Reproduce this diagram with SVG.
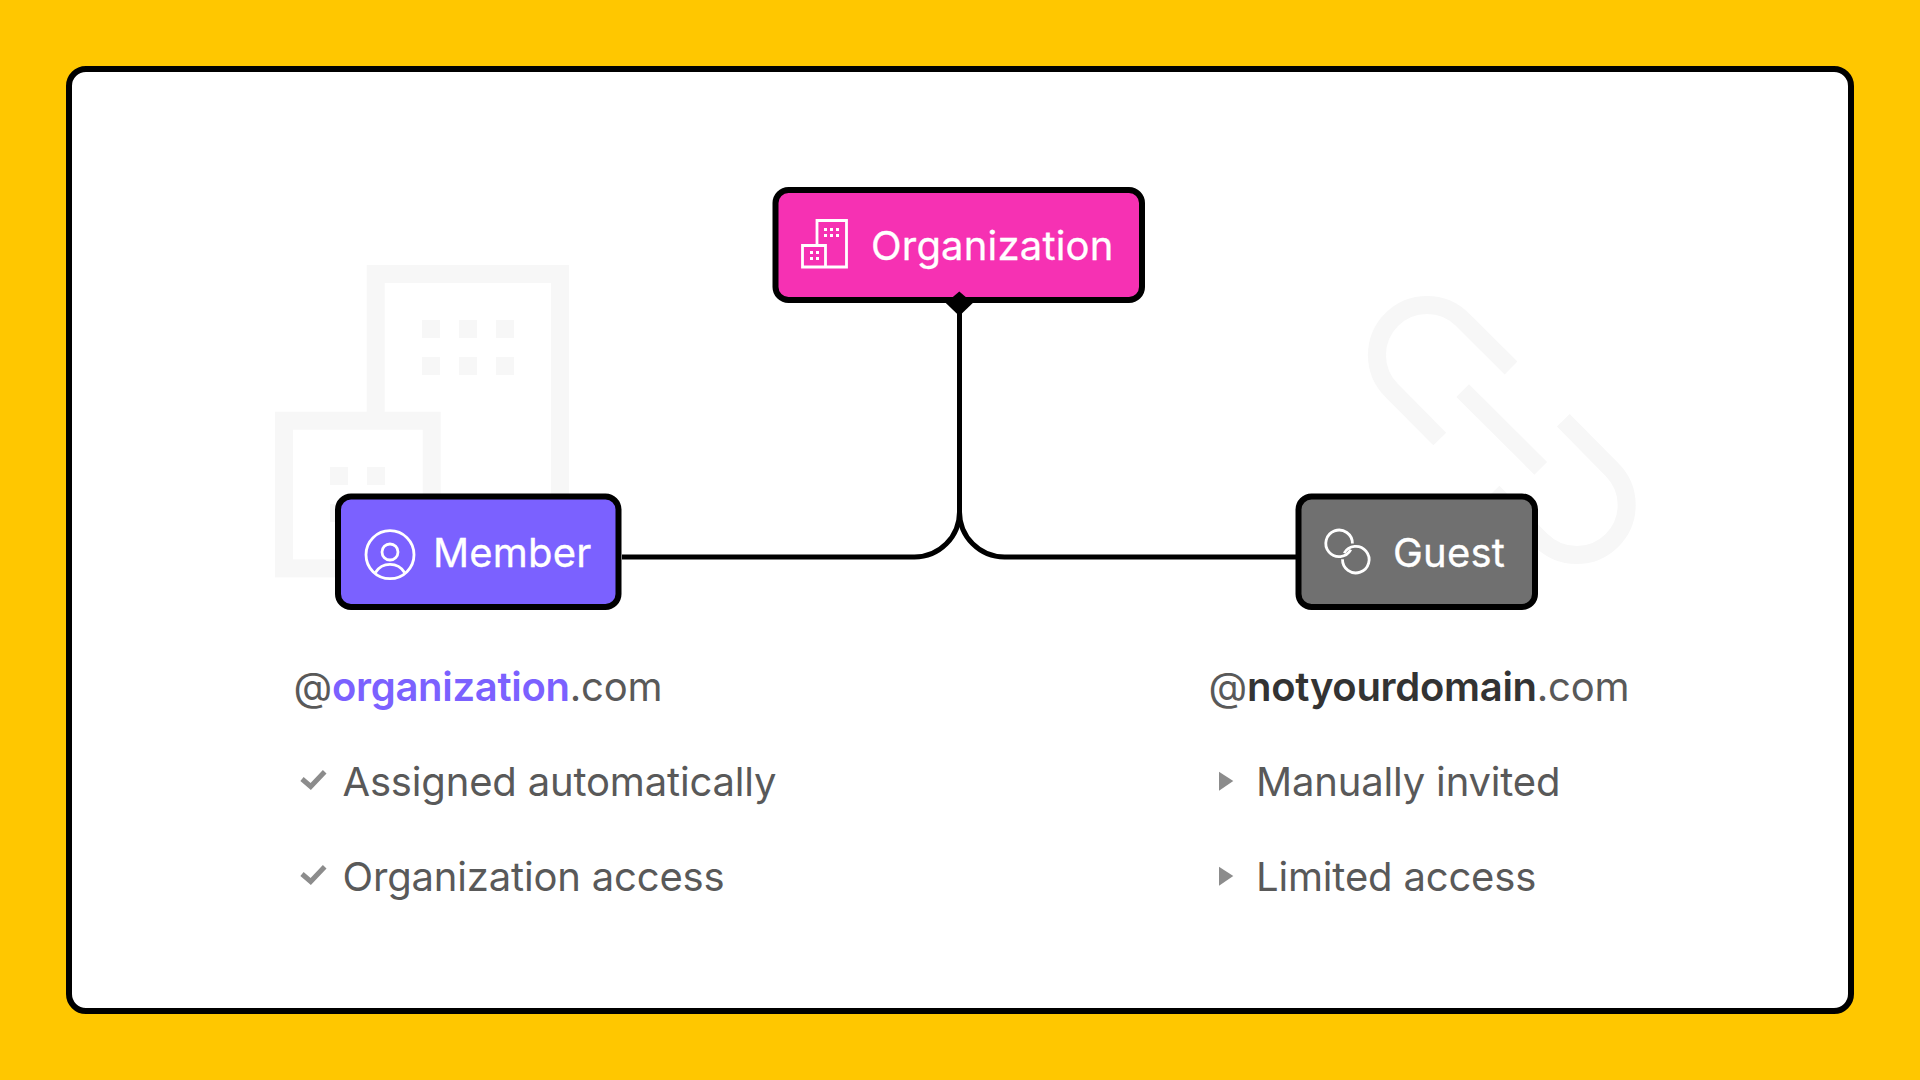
<svg xmlns="http://www.w3.org/2000/svg" width="1920" height="1080" viewBox="0 0 1920 1080">
<style>
text{font-family:Inter,"Noto Sans","Liberation Sans",sans-serif}
.node{stroke:#000;stroke-width:6}
.lbl{fill:#fff;font-size:40px;letter-spacing:.2px;stroke:#fff;stroke-width:.3px}
.det{fill:#595959;font-size:40px;letter-spacing:-.17px}
.em{font-weight:600;letter-spacing:-.3px}
.ic{fill:none;stroke:#fff;stroke-width:2.800}
.bg{fill:none;stroke:#f7f7f7;stroke-width:18}
.bgw{fill:#f7f7f7}
.w{fill:#fff}
.chk{fill:none;stroke:#8c8c8c;stroke-width:5}
.tri{fill:#8c8c8c}
</style>
<rect width="1920" height="1080" fill="#FFC700"/>
<rect x="69" y="69" width="1782" height="942" rx="17" fill="#fff" stroke="#000" stroke-width="6"/>
<g id="bg-building">
<path class="bg" d="M375.700 420V274H560V568"/>
<rect class="bg" x="284" y="420.700" width="147.700" height="147.700"/>
<path class="bgw" d="M422 320h18v18h-18zM459 320h18v18h-18zM496 320h18v18h-18zM422 357h18v18h-18zM459 357h18v18h-18zM496 357h18v18h-18zM330 467h18v18h-18zM367 467h18v18h-18zM330 504h18v18h-18z"/>
</g>
<g id="bg-link" class="bg">
<path d="M1511 368L1462.400 319.600A50 50 0 0 0 1391.600 390.400L1439.700 439"/>
<path d="M1462.700 390.700L1540.700 468.300"/>
<path d="M1563.300 420.300L1612 469.600A50 50 0 0 1 1541.300 540.400L1493 492"/>
</g>
<g id="connectors" fill="none" stroke="#000" stroke-width="5">
<path d="M959.500 303V512A45 45 0 0 1 914.500 557H622"/>
<path d="M959.500 512A45 45 0 0 0 1004.500 557H1296"/>
</g>
<g id="organization">
<rect class="node" x="775.500" y="190" width="366.500" height="110" rx="13" fill="#F631B3"/>
<path d="M959.300 291.500L972.800 303L959.300 316L945.800 303Z" fill="#000"/>
<path class="ic" d="M817 245V220.500H846.500V267H802.500V245.500H825.500V267"/>
<path class="w" d="M824 228h3v3h-3zM830 228h3v3h-3zM836 228h3v3h-3zM824 234h3v3h-3zM830 234h3v3h-3zM836 234h3v3h-3zM810 251h3v3h-3zM816 251h3v3h-3zM810 257h3v3h-3zM816 257h3v3h-3z"/>
<text class="lbl" x="871" y="260">Organization</text>
</g>
<g id="member">
<rect class="node" x="338" y="496.500" width="280.500" height="110.500" rx="13" fill="#7B61FF"/>
<circle class="ic" cx="390" cy="554.700" r="24"/>
<circle class="ic" cx="390" cy="552" r="8"/>
<path class="ic" d="M375.500 572.500A17 17 0 0 1 404.500 572.500"/>
<text class="lbl" x="433" y="567">Member</text>
</g>
<g id="guest">
<rect class="node" x="1298.500" y="496.500" width="236.500" height="110.500" rx="13" fill="#707070"/>
<g transform="translate(.8 0)">
<path class="ic" d="M1350 549.700A13.300 13.300 0 1 1 1351.600 543.500"/>
<path class="ic" d="M1343.400 553.100A13.300 13.300 0 1 1 1341.700 559.300"/>
</g>
<text class="lbl" x="1393" y="567">Guest</text>
</g>
<g id="member-details">
<text class="det" x="293.500" y="701">@<tspan class="em" fill="#7B61FF">organization</tspan>.com</text>
<path class="chk" d="M302 779L310.700 786.500L324.700 771.700"/>
<text class="det" x="342.500" y="796">Assigned automatically</text>
<path class="chk" d="M302 874L310.700 881.500L324.700 866.700"/>
<text class="det" x="342.500" y="891">Organization access</text>
</g>
<g id="guest-details">
<text class="det" x="1208.500" y="701">@<tspan class="em" fill="#333">notyourdomain</tspan>.com</text>
<path class="tri" d="M1219 771.700L1233.300 781L1219 790.700Z"/>
<text class="det" x="1256" y="796">Manually invited</text>
<path class="tri" d="M1219 866.700L1233.300 876L1219 885.700Z"/>
<text class="det" x="1256" y="891">Limited access</text>
</g>
</svg>
